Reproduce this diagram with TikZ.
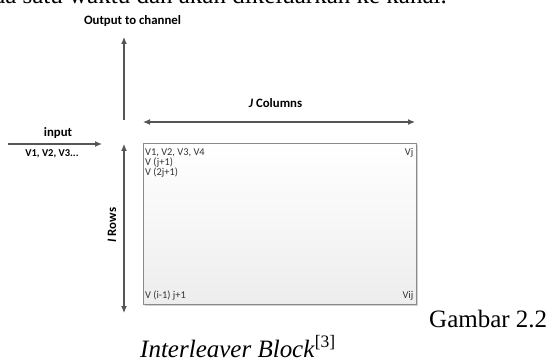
\documentclass[tikz,border=0pt]{standalone}
\usepackage{fontspec}
\setmainfont{Liberation Serif}
\newfontfamily\calfont{Carlito}
\usetikzlibrary{arrows.meta,shadows}
\definecolor{arrgray}{HTML}{555555}
\definecolor{boxedge}{HTML}{8A8A8A}
\tikzset{
  arr/.style={draw=arrgray, line width=1.1pt, -{Latex[length=7pt,width=6pt]}},
  darr/.style={draw=arrgray, line width=1.1pt, {Latex[length=7pt,width=6pt]}-{Latex[length=7pt,width=6pt]}},
  lbl/.style={inner sep=0pt, font=\calfont\bfseries\fontsize{12.8}{14}\selectfont},
  small/.style={inner sep=0pt, font=\calfont\bfseries\fontsize{10.5}{12}\selectfont},
  cell/.style={inner sep=0pt, text=black!80, font=\calfont\fontsize{10.4}{12}\selectfont},
  block/.style={draw=boxedge, line width=0.8pt, top color=white, bottom color=black!7,
     minimum width=273pt, minimum height=161pt, inner sep=0pt,
     drop shadow={shadow xshift=1.2pt, shadow yshift=-1.2pt, fill=black!30, opacity=0.6}},
  serif/.style={inner sep=0pt, font=\fontsize{25}{30}\selectfont}
}
\begin{document}
\begin{tikzpicture}[x=1pt,y=-1pt]
\useasboundingbox (0,0) rectangle (555,361);
% cut-off text line at top
\begin{scope}
\clip (0,0) rectangle (555,20);
\node[serif, anchor=base east] (topline) at (447,4) {pada satu waktu dan akan dikeluarkan ke kanal.};
\end{scope}
% output arrow
\coordinate (outS) at (124,120);
\coordinate (outE) at (124,37);
\draw[arr] (outS) -- (outE);
\node[lbl] (outlbl) at (132.5,21) {Output to channel};
% input arrow
\coordinate (inS) at (8,144);
\coordinate (inE) at (102,144);
\draw[arr] (inS) -- (inE);
\node[lbl] (inlbl) at (58,133) {input};
\node[small] (invals) at (52,154) {V1, V2, V3...};
% columns
\coordinate (colL) at (143,122);
\coordinate (colR) at (415,122);
\draw[darr] (colL) -- (colR);
\node[lbl] (collbl) at (275.5,103) {\textit{J} Columns};
% rows
\coordinate (rowT) at (124,144);
\coordinate (rowB) at (124,313);
\draw[darr] (rowT) -- (rowB);
\node[lbl, rotate=90] (rowlbl) at (112,225) {\textit{I} Rows};
% block
\node[block, anchor=north west] (blk) at (143,143) {};
\node[cell, anchor=west] (c1) at (145,153) {V1, V2, V3, V4};
\node[cell, anchor=west] (c2) at (145,163) {V (j+1)};
\node[cell, anchor=west] (c3) at (145,173) {V (2j+1)};
\node[cell, anchor=east] (c4) at (413.5,153) {Vj};
\node[cell, anchor=west] (c5) at (145,296) {V (i-1) j+1};
\node[cell, anchor=east] (c6) at (413.5,296) {Vij};
% captions
\node[serif, anchor=base west] (gam) at (429,327) {Gambar 2.2};
\node[serif, anchor=base west] (cap) at (140,357) {\textit{Interleaver Block}\textsuperscript{[3]}};
\end{tikzpicture}
\end{document}
